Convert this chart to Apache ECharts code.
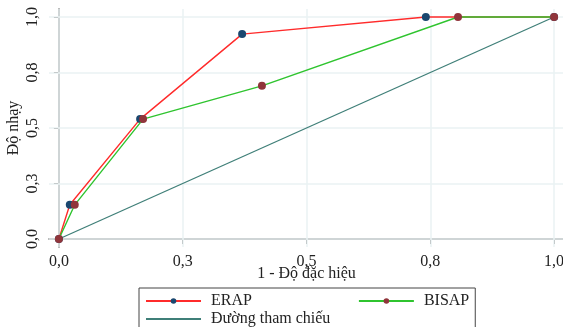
<!DOCTYPE html>
<html>
<head>
<meta charset="utf-8">
<script src="https://cdn.jsdelivr.net/npm/echarts@6.0.0/dist/echarts.min.js"></script>
<style>
  html, body { margin: 0; padding: 0; background: #fff; }
  #chart { width: 563px; height: 327px; }
</style>
</head>
<body>
<div id="chart"></div>
<script>
// tick values and their printed labels (Stata rounds to one decimal)
const tickValues = [0, 0.25, 0.5, 0.75, 1]
const tickLabels = ['0,0', '0,3', '0,5', '0,8', '1,0']

// [1 - specificity, sensitivity]
const erapPoints = [[0, 0], [0.022, 0.154], [0.164, 0.54], [0.37, 0.923], [0.741, 1], [1, 1]]
const bisapPoints = [[0, 0], [0.032, 0.154], [0.17, 0.54], [0.41, 0.69], [0.806, 1], [1, 1]]
const refPoints = [[0, 0], [1, 1]]

const seriesNames = ['ERAP', 'BISAP', 'Đường tham chiếu']

const font = '"Liberation Serif", "DejaVu Serif", serif'
const fontSize = 16
const gridColor = '#eaf2f3'
const axisColor = '#555'

function tickLabel(v) {
  const i = tickValues.findIndex(t => Math.abs(t - v) < 1e-6)
  return i >= 0 ? tickLabels[i] : ''
}

function valueAxis(extra, labelExtra) {
  return Object.assign({
    type: 'value',
    nameLocation: 'middle',
    nameMoveOverlap: false,
    nameTextStyle: { fontFamily: font, fontSize: fontSize, color: '#222' },
    axisLine: { show: true, lineStyle: { color: axisColor, width: 1.5 } },
    axisTick: { show: true, length: 5, customValues: tickValues, lineStyle: { color: axisColor } },
    axisLabel: Object.assign({
      customValues: tickValues,
      formatter: tickLabel,
      fontFamily: font,
      fontSize: fontSize,
      color: '#222'
    }, labelExtra),
    splitLine: { show: false }
  }, extra)
}

// grid lines drawn as markLines at the tick values
const gridLines = tickValues.map(v => ({ xAxis: v }))
  .concat(tickValues.map(v => ({ yAxis: v })))

const legendText = { fontFamily: font, fontSize: fontSize, color: '#222', padding: [0, 0, 0, 5] }

const chart = echarts.init(document.getElementById('chart'))
chart.setOption({
  backgroundColor: '#fff',
  animation: false,
  grid: { left: 49, right: -1, top: 9, bottom: 80, outerBoundsMode: 'none', containLabel: false },
  xAxis: valueAxis({
    min: -0.02, max: 1.02,
    name: '1 - Độ đặc hiệu',
    nameGap: 19
  }, { margin: 7 }),
  yAxis: valueAxis({
    min: -0.036, max: 1.036,
    name: 'Độ nhạy',
    nameGap: 27
  }, { rotate: 90, margin: 8 }),
  legend: [
    {
      data: seriesNames.slice(0, 2),
      left: 139,
      top: 288,
      padding: [5, 6, 40, 6],
      borderColor: '#444',
      borderWidth: 1,
      itemWidth: 55,
      itemHeight: 7,
      itemGap: 106,
      textStyle: legendText
    },
    {
      data: seriesNames.slice(2),
      left: 145,
      top: 311,
      padding: 0,
      itemWidth: 55,
      itemHeight: 7,
      itemStyle: { opacity: 0 },
      textStyle: legendText
    }
  ],
  series: [
    {
      name: 'Đường tham chiếu',
      type: 'line',
      data: refPoints,
      symbol: 'none',
      z: 2,
      lineStyle: { color: '#3f7f78', width: 1.3 },
      itemStyle: { color: '#3f7f78' },
      markLine: {
        silent: true,
        symbol: 'none',
        label: { show: false },
        lineStyle: { color: gridColor, type: 'solid', width: 1.5 },
        data: gridLines,
        z: 1
      }
    },
    {
      name: 'ERAP',
      type: 'line',
      data: erapPoints,
      symbol: 'circle',
      symbolSize: 8,
      z: 3,
      lineStyle: { color: '#ff2b2b', width: 1.4 },
      itemStyle: { color: '#1a476f' }
    },
    {
      name: 'BISAP',
      type: 'line',
      data: bisapPoints,
      symbol: 'circle',
      symbolSize: 8,
      z: 4,
      lineStyle: { color: '#2fc42f', width: 1.4 },
      itemStyle: { color: '#90353b' }
    }
  ]
})
</script>
</body>
</html>
